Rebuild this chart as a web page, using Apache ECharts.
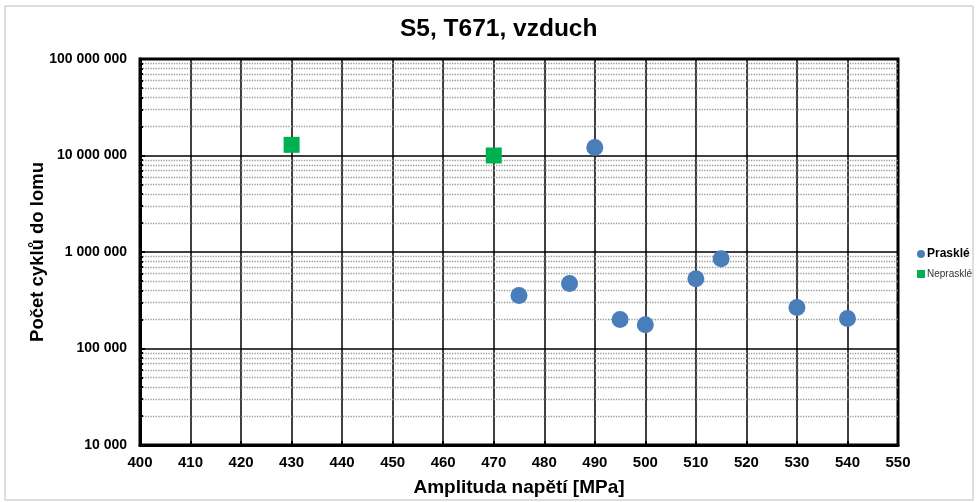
<!DOCTYPE html>
<html><head><meta charset="utf-8">
<script src="https://cdn.jsdelivr.net/npm/echarts@6/dist/echarts.min.js"></script>
<style>html,body{margin:0;padding:0;background:#fff}#c{width:977px;height:502px}</style>
</head><body><div id="c"></div>
<script>
const title = "S5, T671, vzduch";
const xName = "Amplituda napětí [MPa]";
const yName = "Počet cyklů do lomu";
const seriesNames = ["Prasklé", "Neprasklé"];
const prasklyX = [475, 485, 490, 495, 500, 510, 515, 530, 540];
const prasklyY = [354000, 471000, 12100000, 200000, 176000, 527000, 849000, 266000, 205000];
const nepraskleX = [430, 470];
const nepraskleY = [12900000, 10000000];
const xMin = 400, xMax = 550, xStep = 10;
const yMin = 10000, yMax = 100000000;
const minorMults = [2,3,4,5,6,7,8,9];

function fmt(v){ return String(Math.round(v)).replace(/\B(?=(\d{3})+(?!\d))/g, " "); }

const minorVals = [];
for (let d = yMin; d < yMax; d *= 10) minorMults.forEach(m => minorVals.push(d*m));

const chart = echarts.init(document.getElementById('c'));
const font = "'Liberation Sans', Arial, sans-serif";
chart.setOption({
  animation:false,
  backgroundColor:'#fff',
  title:{text:title,left:400,top:17,padding:0,textStyle:{fontFamily:font,fontSize:24.5,fontWeight:'bold',color:'#000'}},
  graphic:[{type:'rect',shape:{x:5,y:6,width:968,height:494},style:{fill:'none',stroke:'#bdbdbd',lineWidth:1},silent:true,z:-1}],
  grid:{left:140,right:79,top:59,bottom:57,show:true,borderColor:'#000',borderWidth:3,backgroundColor:'transparent'},
  legend:{orient:'vertical',left:917,top:248,padding:0,itemGap:9,itemWidth:8,itemHeight:8,
    data:[{name:seriesNames[0],icon:'circle',textStyle:{fontSize:12,fontWeight:'bold',color:'#000',fontFamily:font,padding:[0,0,0,-3]}},
          {name:seriesNames[1],icon:'rect',textStyle:{fontSize:10,color:'#333',fontFamily:font,padding:[0,0,0,-3]}}]},
  xAxis:{type:'value',min:xMin,max:xMax,interval:xStep,name:xName,nameLocation:'middle',nameGap:33,nameMoveOverlap:false,
    nameTextStyle:{fontFamily:font,fontSize:19,fontWeight:'bold',color:'#000'},
    axisLine:{lineStyle:{color:'#000',width:3}},
    axisTick:{inside:true,length:4,lineStyle:{color:'#000',width:2}},
    axisLabel:{fontFamily:font,fontSize:15,fontWeight:'bold',color:'#000',margin:10},
    splitLine:{lineStyle:{color:'#000',width:1.5}}},
  yAxis:{type:'log',logBase:10,min:yMin,max:yMax,name:yName,nameLocation:'middle',nameGap:93,nameMoveOverlap:false,
    nameTextStyle:{fontFamily:font,fontSize:18.5,fontWeight:'bold',color:'#000'},
    axisLine:{lineStyle:{color:'#000',width:3}},
    axisTick:{inside:true,length:5,lineStyle:{color:'#000',width:2}},
    axisLabel:{fontFamily:font,fontSize:14,fontWeight:'bold',color:'#000',margin:13,formatter:v=>fmt(v)},
    splitLine:{lineStyle:{color:'#000',width:1.5}}},
  series:[
    {name:seriesNames[0],type:'scatter',symbol:'circle',symbolSize:17,z:5,
      itemStyle:{color:'#4a7ebb',opacity:1},data:prasklyX.map((x,i)=>[x,prasklyY[i]]),
      markLine:{silent:true,symbol:'none',label:{show:false},animation:false,z:1,
        lineStyle:{color:'#9a9a9a',type:'dotted',width:1.3},
        data:minorVals.map(v=>({yAxis:v}))}},
    {name:seriesNames[1],type:'scatter',symbol:'rect',symbolSize:16,z:5,
      itemStyle:{color:'#00b050',opacity:1},data:nepraskleX.map((x,i)=>[x,nepraskleY[i]]),
      markLine:{silent:true,symbol:'none',label:{show:false},animation:false,z:2,
        lineStyle:{color:'#000',type:'solid',width:2},
        data:minorVals.map(v=>[{coord:[xMin,v]},{coord:[xMin+0.6,v]}])}}
  ]
});
</script></body></html>
